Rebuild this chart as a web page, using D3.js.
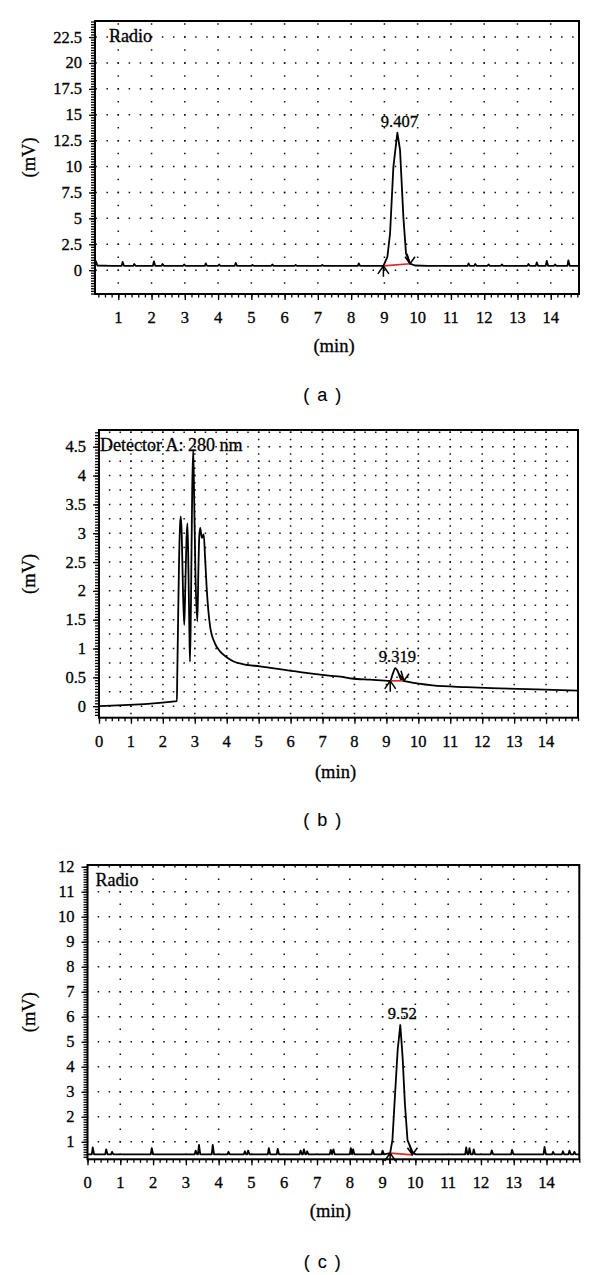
<!DOCTYPE html>
<html>
<head>
<meta charset="utf-8">
<script src="https://cdn.jsdelivr.net/npm/d3@7"></script>
<style>
    body { margin: 0; background: #fff; }
    svg text { font-family: "Liberation Serif", "Times New Roman", serif; fill: #000; stroke: #000; stroke-width: 0.3px; }
    .caption { font-family: "Liberation Sans", Arial, sans-serif; }
</style>
</head>
<body>
<svg id="chart" width="600" height="1275"></svg>
<script>
// ===============================================
// Data
// ===============================================

// Panel (a): Radio trace
const xTicksA = [1, 2, 3, 4, 5, 6, 7, 8, 9, 10, 11, 12, 13, 14];
const yTicksA = [0, 2.5, 5, 7.5, 10, 12.5, 15, 17.5, 20, 22.5];
const traceA = [
    [0.3, 0.45], [0.33, 0.85], [0.37, 0.45], [0.8, 0.42], [1.1, 0.42], [1.13, 0.8], [1.17, 0.42],
    [1.45, 0.42], [1.48, 0.6], [1.52, 0.42], [2.04, 0.42], [2.07, 0.85], [2.11, 0.42],
    [2.3, 0.42], [2.33, 0.6], [2.37, 0.42], [2.95, 0.42], [2.98, 0.55], [3.02, 0.42],
    [3.6, 0.42], [3.63, 0.65], [3.67, 0.42], [4.0, 0.42], [4.03, 0.55], [4.07, 0.42],
    [4.5, 0.42], [4.53, 0.7], [4.57, 0.42], [5.0, 0.42], [5.03, 0.5], [5.07, 0.42],
    [5.6, 0.42], [5.63, 0.55], [5.67, 0.42], [6.3, 0.42], [6.33, 0.5], [6.37, 0.42],
    [7.1, 0.42], [7.13, 0.5], [7.17, 0.42], [8.2, 0.42], [8.23, 0.65], [8.27, 0.42],
    [8.97, 0.42], [9.09, 1.29], [9.17, 3.54], [9.27, 9.98], [9.39, 13.27], [9.47, 11.6],
    [9.57, 5.15], [9.65, 1.6], [9.77, 0.64], [9.92, 0.45], [10.3, 0.42],
    [11.5, 0.42], [11.53, 0.65], [11.57, 0.42], [11.7, 0.42], [11.73, 0.6], [11.77, 0.42],
    [12.1, 0.42], [12.13, 0.55], [12.17, 0.42], [12.5, 0.42], [12.53, 0.55], [12.57, 0.42],
    [13.3, 0.42], [13.33, 0.6], [13.37, 0.42], [13.55, 0.42], [13.58, 0.75], [13.62, 0.42],
    [13.85, 0.42], [13.88, 0.9], [13.92, 0.42], [14.1, 0.42], [14.13, 0.55], [14.17, 0.42],
    [14.5, 0.42], [14.53, 0.95], [14.57, 0.42], [14.85, 0.42]
];
const peakA = {label: "9.407", apex: [9.39, 13.27], start: [8.97, 0.42], end: [9.77, 0.62]};

// Panel (b): Detector A, 280 nm
const xTicksB = [0, 1, 2, 3, 4, 5, 6, 7, 8, 9, 10, 11, 12, 13, 14];
const yTicksB = [0, 0.5, 1, 1.5, 2, 2.5, 3, 3.5, 4, 4.5];
const traceB = [
    [0, 0], [2.44, 0.087], [2.45, 0.5], [2.48, 1.6], [2.51, 2.6], [2.54, 3.15], [2.56, 3.29],
    [2.59, 3.0], [2.63, 2.0], [2.67, 1.41], [2.7, 2.0], [2.74, 2.9], [2.77, 3.17], [2.8, 2.4],
    [2.83, 1.3], [2.85, 0.77], [2.88, 1.8], [2.92, 3.8], [2.95, 4.45], [2.98, 3.6], [3.02, 2.3],
    [3.08, 1.47], [3.11, 2.3], [3.14, 2.95], [3.17, 3.09], [3.22, 2.92], [3.28, 2.98],
    [3.32, 2.6], [3.37, 2.07], [3.48, 1.38], [3.63, 1.09], [3.79, 0.95], [4.0, 0.85],
    [4.2, 0.78], [4.5, 0.73], [5.04, 0.69], [6.3, 0.59], [7.2, 0.53], [7.7, 0.5], [7.91, 0.48],
    [8.5, 0.46], [9.12, 0.44], [9.2, 0.56], [9.28, 0.66], [9.36, 0.6], [9.45, 0.47],
    [9.55, 0.44], [9.7, 0.42], [10.45, 0.36], [11.5, 0.33], [12.53, 0.31], [13.7, 0.29], [15, 0.27]
];
const peakB = {label: "9.319", apex: [9.28, 0.66], start: [9.12, 0.44], end: [9.55, 0.44]};

// Panel (c): Radio trace
const xTicksC = [0, 1, 2, 3, 4, 5, 6, 7, 8, 9, 10, 11, 12, 13, 14];
const yTicksC = [1, 2, 3, 4, 5, 6, 7, 8, 9, 10, 11, 12];
const traceC = [
    [0, 0.5], [0.13, 0.5], [0.16, 0.78], [0.2, 0.5], [0.54, 0.5], [0.57, 0.7], [0.61, 0.5],
    [0.72, 0.5], [0.75, 0.6], [0.79, 0.5], [1.93, 0.5], [1.96, 0.75], [2.0, 0.5],
    [3.27, 0.5], [3.3, 0.65], [3.34, 0.5], [3.37, 0.5], [3.4, 0.88], [3.44, 0.5],
    [3.79, 0.5], [3.82, 0.88], [3.86, 0.5], [4.27, 0.5], [4.3, 0.6], [4.34, 0.5],
    [4.77, 0.5], [4.8, 0.62], [4.84, 0.5], [4.87, 0.5], [4.9, 0.65], [4.94, 0.5],
    [5.5, 0.5], [5.53, 0.75], [5.57, 0.5], [5.77, 0.5], [5.8, 0.72], [5.84, 0.5],
    [6.47, 0.5], [6.5, 0.65], [6.54, 0.5], [6.57, 0.5], [6.6, 0.7], [6.64, 0.5],
    [6.67, 0.5], [6.7, 0.62], [6.74, 0.5], [7.39, 0.5], [7.42, 0.68], [7.46, 0.5],
    [7.5, 0.7], [7.54, 0.5], [8.0, 0.5], [8.03, 0.75], [8.07, 0.5], [8.1, 0.7], [8.14, 0.5],
    [8.67, 0.5], [8.7, 0.68], [8.74, 0.5], [8.97, 0.5], [9.0, 0.65], [9.04, 0.5],
    [9.23, 0.55], [9.3, 1.07], [9.37, 2.67], [9.46, 4.67], [9.54, 5.67], [9.61, 4.4],
    [9.68, 2.54], [9.76, 1.07], [9.91, 0.6], [10.0, 0.5],
    [11.52, 0.5], [11.55, 0.78], [11.59, 0.5], [11.62, 0.5], [11.65, 0.75], [11.69, 0.5],
    [11.75, 0.5], [11.78, 0.7], [11.82, 0.5], [12.3, 0.5], [12.33, 0.66], [12.37, 0.5],
    [12.92, 0.5], [12.95, 0.68], [12.99, 0.5], [13.91, 0.5], [13.94, 0.8], [13.98, 0.5],
    [14.17, 0.5], [14.2, 0.6], [14.24, 0.5], [14.47, 0.5], [14.5, 0.62], [14.54, 0.5],
    [14.67, 0.5], [14.7, 0.65], [14.74, 0.5], [14.82, 0.5], [14.85, 0.6], [14.89, 0.5], [15, 0.5]
];
const peakC = {label: "9.52", apex: [9.54, 5.67], start: [9.23, 0.55], end: [9.91, 0.48]};

const svg = d3.select("#chart");

// ===============================================
// One chromatogram panel
// ===============================================
function drawPanel(p) {
    const x = d3.scaleLinear().domain(p.xDomain).range([p.left, p.right]);
    const y = d3.scaleLinear().domain(p.yDomain).range([p.bottom, p.top]);
    const g = svg.append("g");

    // dotted grid
    const hPeriod = (x(1) - x(0)) / 3;
    const vPeriod = (y(0) - y(p.vStep));
    g.selectAll(".hgrid")
        .data(p.hGrid)
        .enter()
        .append("line")
        .attr("x1", p.left)
        .attr("x2", p.right)
        .attr("y1", d => y(d))
        .attr("y2", d => y(d))
        .attr("stroke", "#111")
        .attr("stroke-width", 1.5)
        .attr("stroke-dasharray", `1.5,${hPeriod - 1.5}`)
        .attr("stroke-dashoffset", (((p.left - x(p.vGrid[0])) % hPeriod) + hPeriod) % hPeriod + 0.75);

    g.selectAll(".vgrid")
        .data(p.vGrid)
        .enter()
        .append("line")
        .attr("x1", d => x(d))
        .attr("x2", d => x(d))
        .attr("y1", p.bottom)
        .attr("y2", p.top)
        .attr("stroke", "#111")
        .attr("stroke-width", 1.5)
        .attr("stroke-dasharray", `1.5,${vPeriod - 1.5}`)
        .attr("stroke-dashoffset", (((y(p.hGrid[0]) - p.bottom) % vPeriod) + vPeriod) % vPeriod + 0.75);

    // minor and major ticks
    const xMinor = d3.axisBottom(x).tickValues(p.xMinor).tickSize(3.5).tickFormat("");
    const xMajor = d3.axisBottom(x).tickValues(p.xTicks).tickSize(6).tickFormat("");
    const yMinor = d3.axisLeft(y).tickValues(p.yMinor).tickSize(4).tickFormat("");
    const yMajor = d3.axisLeft(y).tickValues(p.yTicks).tickSize(6).tickFormat("");
    [xMinor, xMajor].forEach(ax => {
        g.append("g").attr("transform", `translate(0,${p.bottom})`).call(ax)
            .call(s => s.select(".domain").remove());
    });
    [yMinor, yMajor].forEach(ax => {
        g.append("g").attr("transform", `translate(${p.left},0)`).call(ax)
            .call(s => s.select(".domain").remove());
    });
    g.selectAll(".tick line").attr("stroke", "#000").attr("stroke-width", 1.3);

    // tick labels
    g.selectAll(".xlab")
        .data(p.xTicks)
        .enter()
        .append("text")
        .attr("x", d => x(d))
        .attr("y", p.bottom + 29)
        .attr("text-anchor", "middle")
        .style("font-size", "16.5px")
        .text(d => d);

    g.selectAll(".ylab")
        .data(p.yTicks)
        .enter()
        .append("text")
        .attr("x", p.left - 13)
        .attr("y", d => y(d) + 5.5)
        .attr("text-anchor", "end")
        .style("font-size", "16.5px")
        .text(d => d);

    // trace
    const line = d3.line().x(d => x(d[0])).y(d => y(d[1])).curve(p.curve);
    g.append("path")
        .datum(p.trace)
        .attr("fill", "none")
        .attr("stroke", "#000")
        .attr("stroke-width", 1.8)
        .attr("stroke-linejoin", "round")
        .attr("d", line);

    // integration baseline and markers
    g.append("line")
        .attr("x1", x(p.peak.start[0]))
        .attr("y1", y(p.peak.start[1]))
        .attr("x2", x(p.peak.end[0]))
        .attr("y2", y(p.peak.end[1]))
        .attr("stroke", "#e3261f")
        .attr("stroke-width", 1.7);

    const sx = x(p.peak.start[0]), sy = y(p.peak.start[1]);
    g.append("path")
        .attr("d", `M${sx - 5.5},${sy + 8} L${sx},${sy} L${sx + 5.5},${sy + 8} M${sx},${sy} L${sx},${sy + 11}`)
        .attr("fill", "none").attr("stroke", "#000").attr("stroke-width", 1.5);
    const ex = x(p.peak.end[0]), ey = y(p.peak.end[1]);
    g.append("path")
        .attr("d", `M${ex - 5},${ey - 7} L${ex},${ey} L${ex + 5},${ey - 7} M${ex},${ey} L${ex - 3},${ey - 10}`)
        .attr("fill", "none").attr("stroke", "#000").attr("stroke-width", 1.5);

    g.append("text")
        .attr("x", x(p.peak.apex[0]) + 2)
        .attr("y", y(p.peak.apex[1]) - 6)
        .attr("text-anchor", "middle")
        .style("font-size", "16.5px")
        .text(p.peak.label);

    // frame
    g.append("rect")
        .attr("x", p.left)
        .attr("y", p.top)
        .attr("width", p.right - p.left)
        .attr("height", p.bottom - p.top)
        .attr("fill", "none")
        .attr("stroke", "#000")
        .attr("stroke-width", 2);

    // detector name
    g.append("text")
        .attr("x", p.left + p.nameDx)
        .attr("y", p.top + 21)
        .style("font-size", p.nameSize)
        .text(p.name);

    // axis titles
    g.append("text")
        .attr("text-anchor", "middle")
        .attr("transform", "rotate(-90)")
        .attr("x", -(p.top + p.bottom) / 2)
        .attr("y", 35)
        .style("font-size", "18.5px")
        .text("(mV)");

    g.append("text")
        .attr("text-anchor", "middle")
        .attr("x", (p.left + p.right) / 2 - 3)
        .attr("y", p.bottom + p.minDy)
        .style("font-size", "18.5px")
        .text("(min)");

    g.append("text")
        .attr("class", "caption")
        .attr("text-anchor", "middle")
        .attr("x", 323)
        .attr("y", p.captionY)
        .style("font-size", "18px")
        .style("letter-spacing", "1.5px")
        .style("stroke-width", "0.1px")
        .text(p.caption);
}

// ===============================================
// Panels
// ===============================================
drawPanel({
    left: 95, right: 579, top: 21, bottom: 294,
    xDomain: [0.3, 14.85], yDomain: [-2.3, 24.05],
    xTicks: xTicksA, yTicks: yTicksA,
    xMinor: d3.range(0.4, 14.85, 0.2), yMinor: d3.range(-2.25, 24.05, 0.25),
    hGrid: yTicksA, vGrid: xTicksA, vStep: 1.25,
    trace: traceA, peak: peakA, curve: d3.curveLinear,
    name: "Radio", nameDx: 14, nameSize: "18px",
    minDy: 58, caption: "( a )", captionY: 401
});

drawPanel({
    left: 99, right: 578, top: 430, bottom: 717.7,
    xDomain: [0, 15], yDomain: [-0.2, 4.79],
    xTicks: xTicksB, yTicks: yTicksB,
    xMinor: d3.range(0, 15.01, 0.2), yMinor: d3.range(-0.15, 4.79, 0.05),
    hGrid: d3.range(0, 4.76, 0.25), vGrid: xTicksB.slice(1), vStep: 0.125,
    trace: traceB, peak: peakB, curve: d3.curveMonotoneX,
    name: "Detector A: 280 nm", nameDx: 1, nameSize: "18px",
    minDy: 60, caption: "( b )", captionY: 826
});

drawPanel({
    left: 87.5, right: 579.3, top: 865, bottom: 1159.3,
    xDomain: [0, 15], yDomain: [0.3, 12.07],
    xTicks: xTicksC, yTicks: yTicksC,
    xMinor: d3.range(0, 15.01, 0.2), yMinor: d3.range(0.4, 12.07, 0.1),
    hGrid: yTicksC, vGrid: xTicksC.slice(1), vStep: 0.5,
    trace: traceC, peak: peakC, curve: d3.curveLinear,
    name: "Radio", nameDx: 8, nameSize: "18px",
    minDy: 58, caption: "( c )", captionY: 1268
});
</script>
</body>
</html>
